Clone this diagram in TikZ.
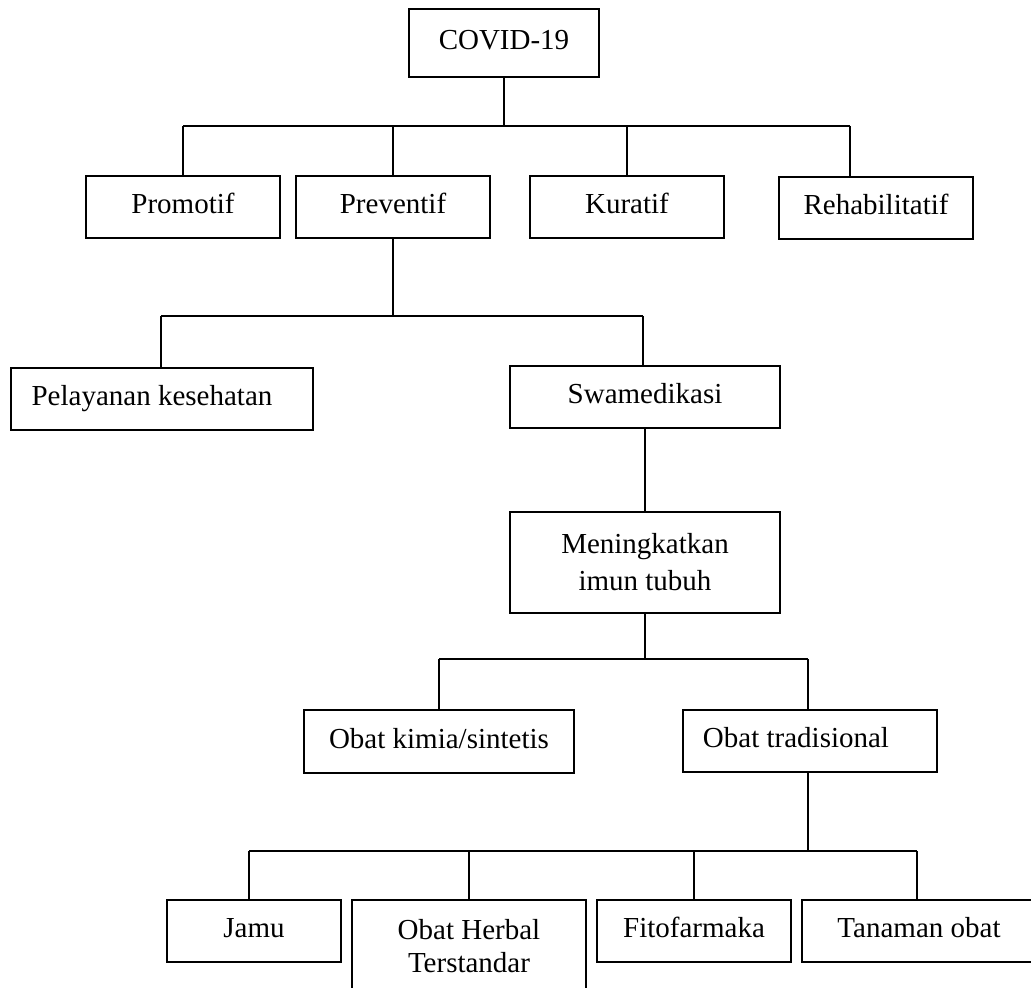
\documentclass[tikz,border=0pt]{standalone}
\usepackage{fontspec}
\setmainfont{Liberation Serif}
\usetikzlibrary{positioning,calc}
\newdimen\px
\px=0.5pt
\tikzset{
    box/.style={draw, line width=0.85pt, inner sep=0pt, outer sep=0pt, align=center, font=\fontsize{14.5pt}{18.5pt}\selectfont},
    onebox/.style={box, text height=10pt, text depth=3.2pt},
    bar/.style={line width=1.2pt},
    trunk/.style={line width=1.05pt},
    stem/.style={line width=0.8pt}
}

\begin{document}
\begin{tikzpicture}[x=0.5pt, y=-0.5pt]
    \useasboundingbox (0,0) rectangle (1031,988);
    \clip (0,0) rectangle (1031,988);

    % Top level
    \node[onebox, minimum width=190\px, minimum height=68\px] (covid) at (504,43) {COVID-19};

    \node[onebox, minimum width=194\px, minimum height=62\px] (promotif) at (183,207) {Promotif};
    \node[onebox, minimum width=194\px, minimum height=62\px] (preventif) at (393,207) {Preventif};
    \node[onebox, minimum width=194\px, minimum height=62\px] (kuratif) at (627,207) {Kuratif};
    \node[onebox, minimum width=194\px, minimum height=62\px] (rehab) at (876,208) {Rehabilitatif};

    \coordinate (b1l) at (183,126);
    \coordinate (b1r) at (850,126);
    \draw[trunk] (covid) -- (covid |- b1l);
    \draw[bar] (b1l) -- (b1r);
    \draw[stem] (b1l) -- (b1l |- promotif.north);
    \draw[stem] (preventif |- b1l) -- (preventif);
    \draw[stem] (kuratif |- b1l) -- (kuratif);
    \draw[stem] (b1r) -- (b1r |- rehab.north);

    % Preventif branch
    \node[onebox, minimum width=302\px, minimum height=62\px] (pelayanan) at (162,399) {Pelayanan kesehatan\hspace*{10pt}};
    \node[onebox, minimum width=270\px, minimum height=62\px] (swamedikasi) at (645,397) {Swamedikasi};
    \node[box, minimum width=270\px, minimum height=101\px] (imun) at (645,562.5) {Meningkatkan\\imun tubuh};

    \coordinate (b2l) at (161,316);
    \coordinate (b2r) at (643,316);
    \draw[trunk] (preventif) -- (preventif |- b2l);
    \draw[bar] (b2l) -- (b2r);
    \draw[stem] (b2l) -- (b2l |- pelayanan.north);
    \draw[stem] (b2r) -- (b2r |- swamedikasi.north);
    \draw[trunk] (swamedikasi) -- (imun);

    % Obat
    \node[onebox, minimum width=270\px, minimum height=63\px] (kimia) at (439,741.5) {Obat kimia/sintetis};
    \node[onebox, minimum width=254\px, minimum height=62\px] (tradisional) at (810,741) {Obat tradisional\hspace*{14pt}};

    \coordinate (b3l) at (439,659);
    \coordinate (b3r) at (808,659);
    \draw[trunk] (imun) -- (imun |- b3l);
    \draw[bar] (b3l) -- (b3r);
    \draw[stem] (b3l) -- (b3l |- kimia.north);
    \draw[stem] (b3r) -- (b3r |- tradisional.north);

    % Obat tradisional
    \node[onebox, minimum width=174\px, minimum height=62\px] (jamu) at (254,931) {Jamu};
    \node[box, minimum width=234\px, minimum height=92\px, font=\fontsize{14.5pt}{16.5pt}\selectfont] (herbal) at (469,946) {Obat Herbal\\Terstandar};
    \node[onebox, minimum width=194\px, minimum height=62\px] (fito) at (694,931) {Fitofarmaka};
    \node[onebox, minimum width=234\px, minimum height=62\px] (tanaman) at (919,931) {Tanaman obat};

    \coordinate (b4l) at (249,851);
    \coordinate (b4r) at (917,851);
    \draw[trunk] (b3r |- tradisional.south) -- (b3r |- b4l);
    \draw[bar] (b4l) -- (b4r);
    \draw[stem] (b4l) -- (b4l |- jamu.north);
    \draw[stem] (herbal |- b4l) -- (herbal.north);
    \draw[stem] (fito |- b4l) -- (fito.north);
    \draw[stem] (b4r) -- (b4r |- tanaman.north);
\end{tikzpicture}
\end{document}
